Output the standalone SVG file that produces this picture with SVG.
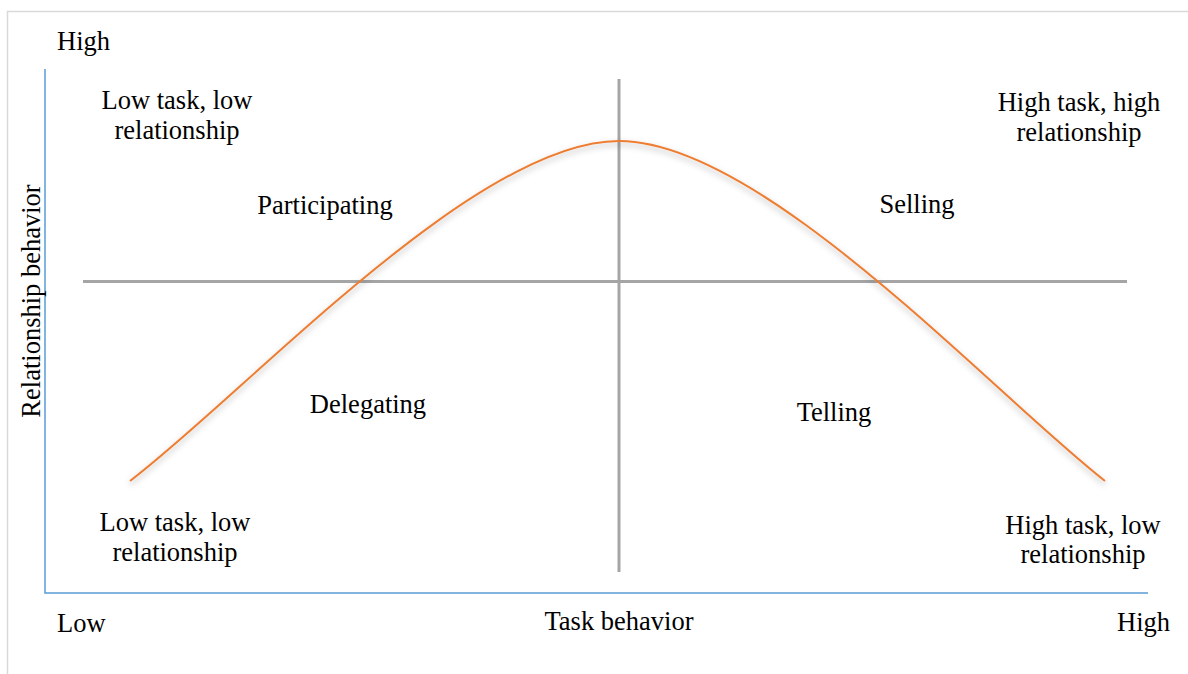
<svg xmlns="http://www.w3.org/2000/svg" width="1188" height="674" viewBox="0 0 1188 674">
  <style>
    .lbl { font-family: "Liberation Serif", "Times New Roman", serif; font-size: 26.5px; fill: #000; }
    .mid { text-anchor: middle; }
    .quad { stroke: #a5a5a5; stroke-width: 3; fill: none; }
    .axis { stroke: #5b9bd5; stroke-width: 1.5; fill: none; }
    .curve { stroke: #ed7d31; stroke-width: 2; fill: none; }
  </style>
  <defs>
    <filter id="softShadow" x="-10%" y="-10%" width="120%" height="130%">
      <feDropShadow dx="0" dy="3" stdDeviation="3" flood-color="#000" flood-opacity="0.3"/>
    </filter>
  </defs>

  <rect width="1188" height="674" fill="#fff"/>
  <!-- outer frame -->
  <rect x="7.5" y="11.5" width="1200" height="700" fill="none" stroke="#d9d9d9" stroke-width="1.5"/>

  <!-- axes -->
  <g id="axes">
    <polyline class="axis" points="45,69 45,593 1148,593"/>
  </g>

  <!-- quadrant dividers and the leadership curve -->
  <g id="connectors">
    <line class="quad" x1="83" y1="281.5" x2="1127" y2="281.5"/>
    <line class="quad" x1="619" y1="79" x2="619" y2="572"/>
    <path id="curve" class="curve" filter="url(#softShadow)"
          d="M130,481 C247,392 475,141 619,141 C763,141 991,392 1105,481"/>
  </g>

  <!-- axis labels -->
  <g id="axis-labels">
    <text class="lbl" x="57" y="50">High</text>
    <text class="lbl" x="57" y="632">Low</text>
    <text class="lbl" x="1170" y="631" text-anchor="end">High</text>
    <text class="lbl mid" x="619" y="630">Task behavior</text>
    <text class="lbl mid" transform="translate(40,301) rotate(-90)">Relationship behavior</text>
  </g>

  <!-- corner descriptions -->
  <g id="corner-top-left">
    <text class="lbl mid" x="177" y="109">Low task, low</text>
    <text class="lbl mid" x="177" y="139">relationship</text>
  </g>
  <g id="corner-top-right">
    <text class="lbl mid" x="1079" y="111">High task, high</text>
    <text class="lbl mid" x="1079" y="141">relationship</text>
  </g>
  <g id="corner-bottom-left">
    <text class="lbl mid" x="175" y="531">Low task, low</text>
    <text class="lbl mid" x="175" y="561">relationship</text>
  </g>
  <g id="corner-bottom-right">
    <text class="lbl mid" x="1083" y="534">High task, low</text>
    <text class="lbl mid" x="1083" y="563">relationship</text>
  </g>

  <!-- styles -->
  <g id="participating"><text class="lbl mid" x="325" y="214">Participating</text></g>
  <g id="selling"><text class="lbl mid" x="917" y="213">Selling</text></g>
  <g id="delegating"><text class="lbl mid" x="368" y="413">Delegating</text></g>
  <g id="telling"><text class="lbl mid" x="834" y="421">Telling</text></g>
</svg>
